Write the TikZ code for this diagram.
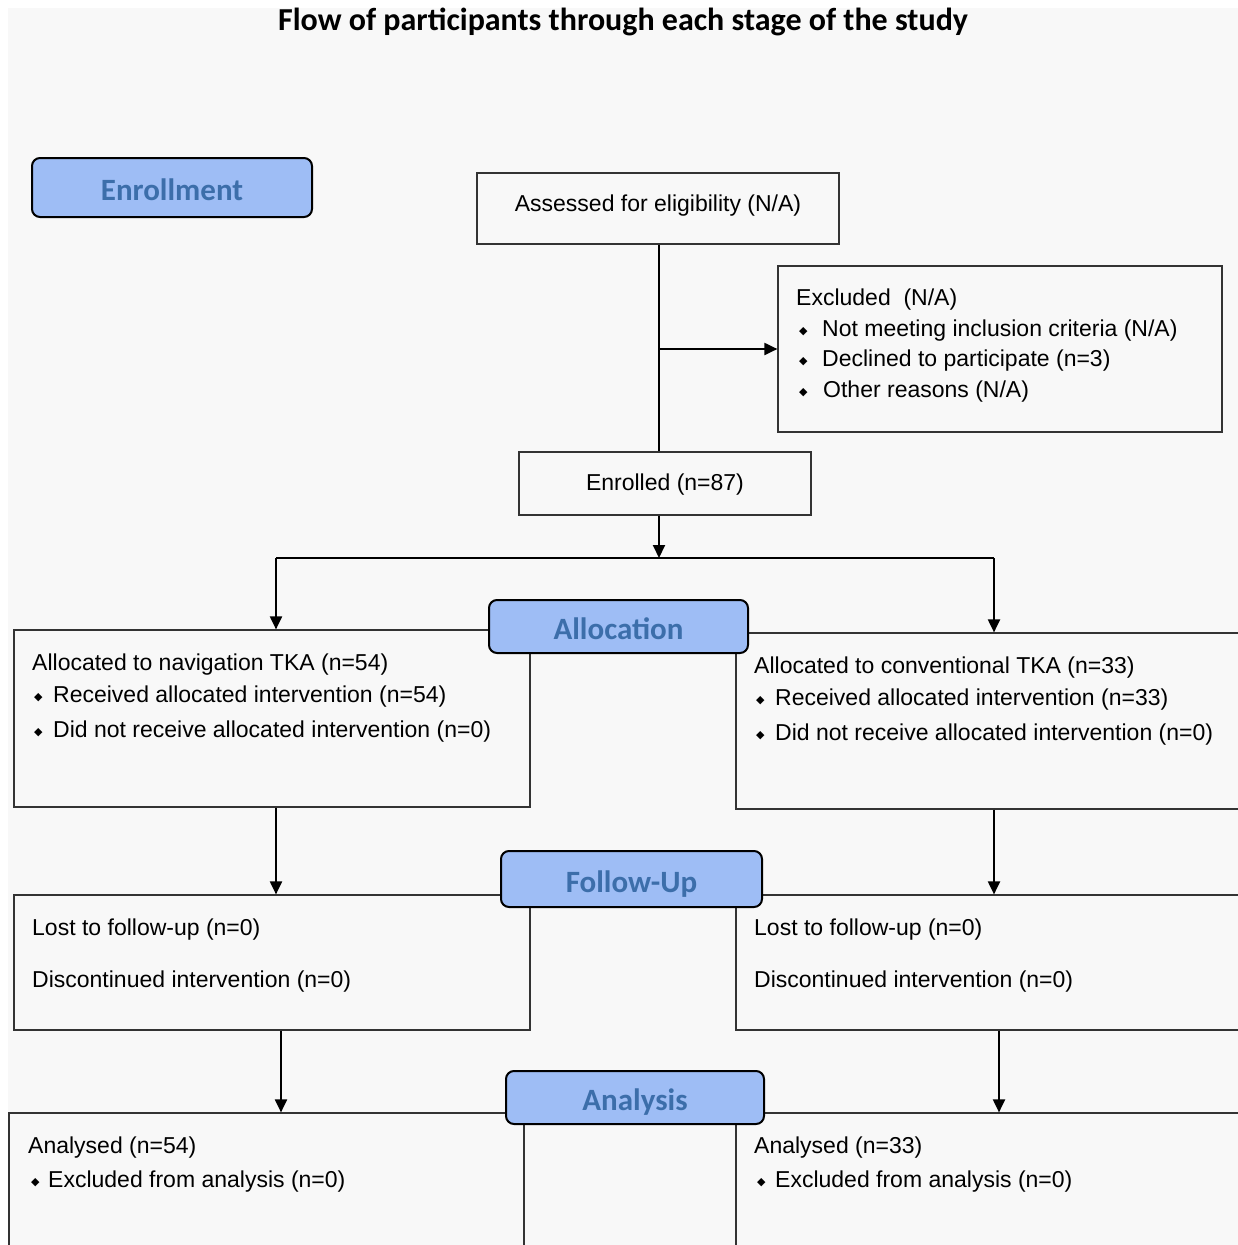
\documentclass[tikz,border=0pt]{standalone}
\usepackage{fontspec}
\setmainfont{Liberation Sans}
\newfontfamily\calfont{Carlito}
\newfontfamily\dejavu{DejaVu Sans}
\usetikzlibrary{arrows.meta,calc}
\definecolor{bg}{HTML}{F8F8F8}
\definecolor{stagefill}{HTML}{9EBDF5}
\definecolor{stagetext}{HTML}{3C6EAA}
\definecolor{boxline}{HTML}{333333}
\newcommand{\bul}[1]{\makebox[#1][l]{\raisebox{2.5pt}{\dejavu\fontsize{11}{11}\selectfont ◆}}}
\newcommand{\stg}[1]{\raisebox{-6pt}[20pt][6pt]{#1}}
\begin{document}
\begin{tikzpicture}[x=1pt,y=-1pt,
  box/.style={draw=boxline,line width=1.2pt,fill=bg,rectangle,inner sep=0pt},
  stage/.style={draw=black,line width=2pt,fill=stagefill,rounded corners=8pt,
    text=stagetext,font=\calfont\bfseries\fontsize{31}{34}\selectfont,inner sep=0pt},
  txt/.style={anchor=west,inner sep=0pt,yshift=-2.5pt,font=\fontsize{23}{27}\selectfont},
  conn/.style={line width=2pt,black},
  arr/.style={conn,-{Triangle[length=13pt,width=12pt]}}]
\clip (0,0) rectangle (1238,1245);
\useasboundingbox (0,0) rectangle (1238,1245);
\fill[white] (0,0) rectangle (1238,1245);
\fill[bg] (8,8) rectangle (1238,1245);

% title
\node[inner sep=0pt,font=\calfont\bfseries\fontsize{32}{36}\selectfont] (title) at (623,22)
  {Flow of participants through each stage of the study};

% boxes
\node[box,minimum width=362pt,minimum height=71pt] (assess) at (658,208.5) {};
\node[box,minimum width=444pt,minimum height=166pt] (excl) at (1000,349) {};
\node[box,minimum width=292pt,minimum height=63pt] (enrol) at (665,483.5) {};
\node[box,minimum width=516pt,minimum height=177pt] (allocL) at (272,718.5) {};
\node[box,minimum width=524pt,minimum height=176pt] (allocR) at (998,721) {};
\node[box,minimum width=516pt,minimum height=135pt] (fuL) at (272,962.5) {};
\node[box,minimum width=524pt,minimum height=135pt] (fuR) at (998,962.5) {};
\node[box,minimum width=515pt,minimum height=157pt] (anL) at (266.5,1191.5) {};
\node[box,minimum width=524pt,minimum height=157pt] (anR) at (998,1191.5) {};

% texts
\node[txt,anchor=center] (tAssess) at (658,204) {\strut Assessed for eligibility (N/A)};
\node[txt] (tEx0) at (796,298) {\strut Excluded\ \ (N/A)};
\node[txt] (tEx1) at (799,329) {\strut\bul{23pt}Not meeting inclusion criteria (N/A)};
\node[txt] (tEx2) at (799,359) {\strut\bul{23pt}Declined to participate (n=3)};
\node[txt] (tEx3) at (799,390) {\strut\bul{24pt}Other reasons (N/A)};
\node[txt,anchor=center] (tEnrol) at (665,483) {\strut Enrolled (n=87)};
\node[txt] (tAL0) at (32,663) {\strut Allocated to navigation TKA (n=54)};
\node[txt] (tAL1) at (34,695) {\strut\bul{19pt}Received allocated intervention (n=54)};
\node[txt] (tAL2) at (34,730) {\strut\bul{19pt}Did not receive allocated intervention (n=0)};
\node[txt] (tAR0) at (754,666) {\strut Allocated to conventional TKA (n=33)};
\node[txt] (tAR1) at (756,698) {\strut\bul{19pt}Received allocated intervention (n=33)};
\node[txt] (tAR2) at (756,733) {\strut\bul{19pt}Did not receive allocated intervention (n=0)};
\node[txt] (tFL0) at (32,928) {\strut Lost to follow-up (n=0)};
\node[txt] (tFL1) at (32,980) {\strut Discontinued intervention (n=0)};
\node[txt] (tFR0) at (754,928) {\strut Lost to follow-up (n=0)};
\node[txt] (tFR1) at (754,980) {\strut Discontinued intervention (n=0)};
\node[txt] (tNL0) at (28,1146) {\strut Analysed (n=54)};
\node[txt] (tNL1) at (31,1180) {\strut\bul{17pt}Excluded from analysis (n=0)};
\node[txt] (tNR0) at (754,1146) {\strut Analysed (n=33)};
\node[txt] (tNR1) at (757,1180) {\strut\bul{18pt}Excluded from analysis (n=0)};

% connector coordinates
\coordinate (trunk) at (659,244);
\coordinate (split) at (659,558);
\coordinate (jL) at (276,558);
\coordinate (jR) at (994,558);
\coordinate (fL) at (281,1030);
\coordinate (fR) at (999,1030);

% connectors
\draw[conn] (assess.south -| trunk) -- (enrol.north -| trunk);
\draw[arr] (excl.west -| trunk) -- (excl.west);
\draw[arr] (enrol.south -| split) -- (split);
\draw[conn] (jL) -- (jR);
\draw[arr] (jL) -- (allocL.north -| jL);
\draw[arr] (jR) -- (allocR.north -| jR);
\draw[arr] (allocL.south -| jL) -- (fuL.north -| jL);
\draw[arr] (allocR.south -| jR) -- (fuR.north -| jR);
\draw[arr] (fuL.south -| fL) -- (anL.north -| fL);
\draw[arr] (fuR.south -| fR) -- (anR.north -| fR);

% stage labels
\node[stage,minimum width=280pt,minimum height=59pt] (sEnrol) at (172,187.5) {\stg{Enrollment}};
\node[stage,minimum width=259pt,minimum height=53pt] (sAlloc) at (618.5,626.5) {\stg{Allocation}};
\node[stage,minimum width=261pt,minimum height=56pt] (sFollow) at (631.5,879) {\stg{Follow-Up}};
\node[stage,minimum width=258pt,minimum height=53pt] (sAnal) at (635,1097.5) {\stg{Analysis}};
\end{tikzpicture}
\end{document}
